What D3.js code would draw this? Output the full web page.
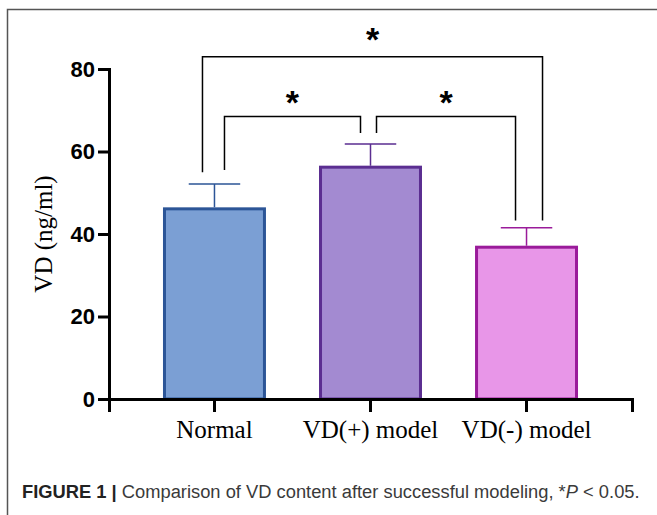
<!DOCTYPE html>
<html>
<head>
<meta charset="utf-8">
<script src="https://cdn.jsdelivr.net/npm/d3@7"></script>
<style>
  body { margin: 0; background: #fff; }
  svg { display: block; }
</style>
</head>
<body>
<svg id="chart" width="657" height="515"></svg>
<script>
// group means and upper SD
const groups = ['Normal', 'VD(+) model', 'VD(-) model']
const means = [46.1, 56.2, 36.8]
const errors = [6.0, 5.6, 4.7]
const fills = ['#7b9fd4', '#a38ad1', '#e896e8']
const strokes = ['#2c5597', '#5b2e91', '#9a1b9a']
const yTicks = [0, 20, 40, 60, 80]

// significance brackets: [from group, to group, height of bar, leg end values]
const brackets = [
  {from: 0, to: 1, level: 68.5, legs: [55.5, 64.5], dx: [10, -10], lift: 0},
  {from: 1, to: 2, level: 68.5, legs: [64.5, 43.3], dx: [6, -11], lift: 0},
  {from: 0, to: 2, level: 83, legs: [55, 43.3], dx: [-12, 16], lift: 4}
]

const svg = d3.select('#chart')

const x = d3.scaleBand()
  .domain(groups)
  .range([109, 632])
  .paddingInner(0.34)
  .paddingOuter(0.346)

const y = d3.scaleLinear()
  .domain([0, 80])
  .range([399, 69])

// frame
svg.append('path')
  .attr('d', 'M7.5,515V9.5H657')
  .style('fill', 'none')
  .style('stroke', '#555')
  .style('stroke-width', 1.5)

// bars
svg.selectAll('.bar')
  .data(groups)
  .enter().append('rect')
  .attr('class', 'bar')
  .attr('x', d => x(d) + 1.5)
  .attr('y', (d, i) => y(means[i]))
  .attr('width', x.bandwidth() - 3)
  .attr('height', (d, i) => y(0) - y(means[i]))
  .style('fill', (d, i) => fills[i])
  .style('stroke', (d, i) => strokes[i])
  .style('stroke-width', 3)

// error bars (upper only)
groups.forEach((g, i) => {
  let cx = x(g) + x.bandwidth() / 2
  let top = y(means[i] + errors[i])
  let half = x.bandwidth() / 4
  svg.append('path')
    .attr('d', `M${cx},${y(means[i]) - 1.5}V${top}M${cx - half},${top}H${cx + half}`)
    .style('fill', 'none')
    .style('stroke', strokes[i])
    .style('stroke-width', 1.5)
})

// axes
const yAxis = svg.append('g')
  .attr('transform', 'translate(109,0)')
  .call(d3.axisLeft(y).tickValues(yTicks).tickSize(11).tickPadding(3))
yAxis.select('.domain').style('stroke-width', 3)
yAxis.selectAll('.tick line').style('stroke-width', 3)
yAxis.selectAll('text')
  .style('font-family', '"Liberation Sans", Arial, sans-serif')
  .style('font-weight', 'bold')
  .style('font-size', '22px')
  .attr('fill', '#000')

const xAxis = svg.append('g')
  .attr('transform', 'translate(0,399)')
  .call(d3.axisBottom(x).tickSizeOuter(0).tickSize(13).tickPadding(8))
xAxis.select('.domain').style('stroke-width', 3)
xAxis.selectAll('.tick line').style('stroke-width', 3)
xAxis.selectAll('text')
  .style('font-family', '"Liberation Serif", "Times New Roman", serif')
  .style('font-size', '25px')
  .attr('fill', '#000')

svg.append('text')
  .attr('transform', 'translate(52,234) rotate(-90)')
  .attr('text-anchor', 'middle')
  .style('font-family', '"Liberation Serif", "Times New Roman", serif')
  .style('font-size', '25px')
  .text('VD (ng/ml)')

// brackets and stars
brackets.forEach(b => {
  let x1 = x(groups[b.from]) + x.bandwidth() / 2 + b.dx[0]
  let x2 = x(groups[b.to]) + x.bandwidth() / 2 + b.dx[1]
  let top = y(b.level)
  svg.append('path')
    .attr('d', `M${x1},${y(b.legs[0])}V${top}H${x2}V${y(b.legs[1])}`)
    .style('fill', 'none')
    .style('stroke', '#000')
    .style('stroke-width', 1.5)
  svg.append('text')
    .attr('x', (x1 + x2) / 2)
    .attr('y', top - 2 - b.lift)
    .attr('text-anchor', 'middle')
    .style('font-family', '"Liberation Sans", Arial, sans-serif')
    .style('font-weight', 'bold')
    .style('font-size', '34px')
    .text('*')
})

// caption, squeezed a little to look like the condensed journal face
const caption = svg.append('text')
  .style('font-family', '"Liberation Sans", Arial, sans-serif')
  .style('font-size', '19px')
  .attr('fill', '#3a3a3a')
caption.append('tspan').style('font-weight', 'bold').attr('fill', '#222').text('FIGURE 1 | ')
caption.append('tspan').text('Comparison of VD content after successful modeling, *')
caption.append('tspan').style('font-style', 'italic').text('P')
caption.append('tspan').text(' < 0.05.')
let w = caption.node().getComputedTextLength()
caption.attr('transform', `translate(22,498) scale(${618 / w},1)`)
</script>
</body>
</html>
